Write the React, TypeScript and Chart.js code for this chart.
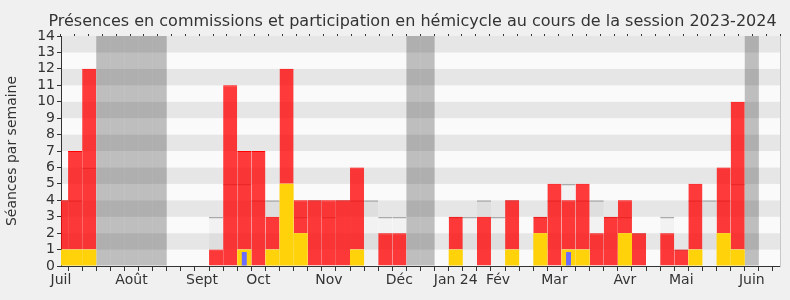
import React, { useEffect, useRef } from "react";
import { Chart, registerables } from "chart.js";

Chart.register(...registerables);

const TITLE = "Présences en commissions et participation en hémicycle au cours de la session 2023-2024";
const Y_TITLE = "Séances par semaine";

// week index 0..51
const hemicycle = [1, 1, 1, 0, 0, 0, 0, 0, 0, 0, 0, 0, 0, 1, 0, 1, 5, 2, 0, 0, 0, 1, 0, 0, 0, 0, 0, 0, 1, 0, 0, 0, 1, 0, 2, 0, 1, 1, 0, 0, 2, 0, 0, 0, 0, 1, 0, 2, 1, 0, 0, 0];
const commission = [3, 6, 11, 0, 0, 0, 0, 0, 0, 0, 0, 1, 11, 6, 7, 2, 7, 2, 4, 4, 4, 5, 0, 2, 2, 0, 0, 0, 2, 0, 3, 0, 3, 0, 1, 5, 3, 4, 2, 3, 2, 2, 0, 2, 1, 4, 0, 4, 9, 0, 0, 0];
const questions = [0, 0, 0, 0, 0, 0, 0, 0, 0, 0, 0, 0, 0, 0.85, 0, 0, 0, 0, 0, 0, 0, 0, 0, 0, 0, 0, 0, 0, 0, 0, 0, 0, 0, 0, 0, 0, 0.85, 0, 0, 0, 0, 0, 0, 0, 0, 0, 0, 0, 0, 0, 0, 0];
const median = [4, 4, 6, 0, 0, 0, 0, 0, 0, 0, 0, 3, 5, 5, 4, 4, 4, 3, 4, 3, 4, 4, 4, 3, 3, 0, 0, 0, 3, 3, 4, 3, 4, 0, 3, 4, 5, 4, 4, 3, 3, 2, 0, 3, 1, 4, 4, 4, 5, 0, 0, 0];
const vacationWeeks = [3, 4, 5, 6, 7, 25, 26, 49];
const monthWeeks = [0, 5, 10, 14, 19, 24, 28, 31, 35, 40, 44, 49];
const monthLabels = ["Juil", "Août", "Sept", "Oct", "Nov", "Déc", "Jan 24", "Fév", "Mar", "Avr", "Mai", "Juin"];
const Y_MAX = 14;
const LAST_WEEK = 51;

const FONT = '"DejaVu Sans", sans-serif';
const TEXT = "#333333";

const toPoints = (arr: number[]) => arr.map((v, i) => ({ x: i, y: v }));

export default function App() {
  const ref = useRef<HTMLCanvasElement | null>(null);

  useEffect(() => {
    if (!ref.current) return;
    const vacation = hemicycle.map((_, i) => (vacationWeeks.includes(i) ? Y_MAX : 0));

    const stripes = {
      id: "stripes",
      beforeDraw(chart: any) {
        const { ctx, chartArea, scales } = chart;
        const y = scales.y;
        ctx.save();
        for (let v = 0; v < Y_MAX; v++) {
          ctx.fillStyle = v % 2 === 0 ? "#fafafa" : "#e6e6e6";
          const top = y.getPixelForValue(v + 1);
          const bottom = y.getPixelForValue(v);
          ctx.fillRect(chartArea.left, top, chartArea.right - chartArea.left, bottom - top);
        }
        ctx.restore();
      },
    };

    const titlePlugin = {
      id: "customTitle",
      afterDraw(chart: any) {
        const { ctx, chartArea } = chart;
        ctx.save();
        ctx.font = "16px " + FONT;
        ctx.fillStyle = TEXT;
        ctx.textAlign = "center";
        ctx.textBaseline = "alphabetic";
        ctx.fillText(TITLE, (chartArea.left + chartArea.right) / 2 - 8, 26);
        ctx.restore();
      },
    };

    const common = {
      grouped: false,
      categoryPercentage: 1,
      barPercentage: 1,
      inflateAmount: 0,
    };

    const chart = new Chart(ref.current, {
      type: "bar",
      data: {
        datasets: [
          {
            label: "Médiane",
            data: toPoints(median),
            stack: "m",
            backgroundColor: "rgba(0,0,0,0.03)",
            borderColor: "#aaaaaa",
            borderWidth: { top: 1.5, left: 0, right: 0, bottom: 0 },
            borderSkipped: false,
            order: 6,
            ...common,
          },
          {
            label: "Vacances",
            data: toPoints(vacation),
            stack: "v",
            backgroundColor: "rgba(0,0,0,0.24)",
            borderWidth: 0,
            order: 5,
            ...common,
          },
          {
            label: "Hémicycle",
            data: toPoints(hemicycle),
            stack: "p",
            backgroundColor: "#ffd20a",
            borderWidth: 0,
            order: 2,
            ...common,
          },
          {
            label: "Commission",
            data: toPoints(commission),
            stack: "p",
            backgroundColor: "rgba(255,0,0,0.77)",
            borderColor: "#ff0000",
            borderWidth: { top: 1, left: 0, right: 0, bottom: 0 },
            borderSkipped: false,
            order: 3,
            ...common,
          },
          {
            label: "Questions",
            data: toPoints(questions),
            stack: "q",
            backgroundColor: "#6b6bff",
            borderWidth: 0,
            order: 1,
            grouped: false,
            categoryPercentage: 1,
            barPercentage: 0.35,
            inflateAmount: 0,
          },
        ],
      },
      options: {
        animation: false,
        responsive: false,
        maintainAspectRatio: false,
        devicePixelRatio: 1,
        layout: { padding: { top: 34, left: 0, right: 0, bottom: 0 } },
        plugins: { legend: { display: false }, tooltip: { enabled: false }, title: { display: false } },
        scales: {
          x: {
            type: "linear",
            position: "bottom",
            min: 0,
            max: LAST_WEEK,
            offset: false,
            afterFit: (s: any) => {
              s.height = 34;
            },
            afterBuildTicks: (s: any) => {
              s.ticks = Array.from({ length: LAST_WEEK + 1 }, (_, i) => ({ value: i }));
            },
            ticks: {
              autoSkip: false,
              maxRotation: 0,
              minRotation: 0,
              padding: 1,
              color: TEXT,
              font: { family: FONT, size: 14 },
              callback: (v: any) => {
                const k = monthWeeks.indexOf(Number(v));
                return k >= 0 ? monthLabels[k] : "";
              },
            },
            grid: { drawOnChartArea: false, color: TEXT, tickLength: 5 },
            border: { color: TEXT, width: 1 },
          },
          xTop: {
            type: "linear",
            position: "top",
            min: 0,
            max: LAST_WEEK,
            afterFit: (s: any) => {
              s.height = 2;
            },
            afterBuildTicks: (s: any) => {
              s.ticks = Array.from({ length: LAST_WEEK + 1 }, (_, i) => ({ value: i }));
            },
            ticks: { display: false, autoSkip: false },
            grid: { drawOnChartArea: false, color: TEXT, tickLength: 2 },
            border: { display: false },
          },
          y: {
            type: "linear",
            position: "left",
            stacked: true,
            min: 0,
            max: Y_MAX,
            afterFit: (s: any) => {
              s.width = 61;
            },
            ticks: { stepSize: 1, autoSkip: false, padding: 2, color: TEXT, font: { family: FONT, size: 14 } },
            grid: { drawOnChartArea: false, color: TEXT, tickLength: 4 },
            border: { color: TEXT, width: 1 },
            title: {
              display: true,
              text: Y_TITLE,
              color: TEXT,
              font: { family: FONT, size: 14 },
              padding: { top: 4, bottom: 0 },
            },
          },
          yRight: {
            type: "linear",
            position: "right",
            min: 0,
            max: Y_MAX,
            afterFit: (s: any) => {
              s.width = 10;
            },
            ticks: { display: false },
            grid: { drawOnChartArea: false, drawTicks: false },
            border: { color: "#c8c8c8", width: 1 },
          },
        },
      },
      plugins: [stripes, titlePlugin],
    } as any);

    return () => chart.destroy();
  }, []);

  return (
    <div
      style={{
        position: "absolute",
        left: 0,
        top: 0,
        width: 790,
        height: 300,
        background: "#f0f0f0",
      }}
    >
      <canvas ref={ref} width={790} height={300} style={{ display: "block" }} />
    </div>
  );
}
